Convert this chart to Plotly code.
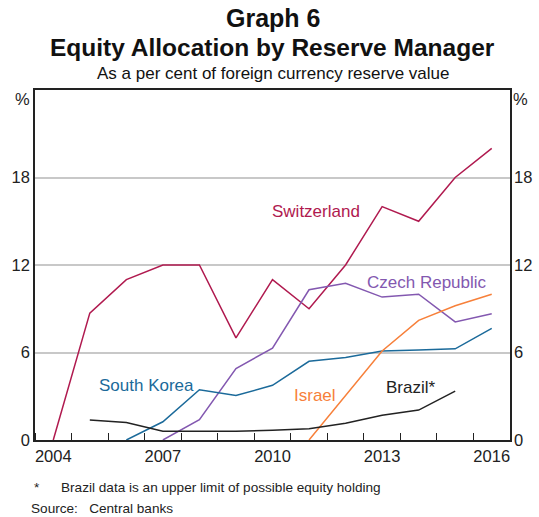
import plotly.graph_objects as go

years = list(range(2004, 2017))
switzerland = [0, 8.7, 11.0, 12.0, 12.0, 7.0, 11.0, 9.0, 12.0, 16.0, 15.0, 18.0, 20.0]
czech_years = list(range(2007, 2017))
czech = [0, 1.4, 4.9, 6.3, 10.3, 10.75, 9.8, 10.0, 8.1, 8.65]
korea_years = list(range(2006, 2017))
korea = [0, 1.25, 3.45, 3.05, 3.75, 5.4, 5.65, 6.1, 6.17, 6.25, 7.65]
israel_years = list(range(2011, 2017))
israel = [0, 3.05, 6.1, 8.2, 9.2, 10.0]
brazil_years = list(range(2005, 2016))
brazil = [1.37, 1.2, 0.6, 0.6, 0.6, 0.67, 0.78, 1.15, 1.7, 2.05, 3.35]

year_ticks = [2004, 2007, 2010, 2013, 2016]
y_ticks = [0, 6, 12, 18]

C_SWI = "#b01a4f"
C_CZE = "#8358b0"
C_KOR = "#1b6a9a"
C_ISR = "#f7803a"
C_BRA = "#222222"

FONT = "Liberation Sans, Arial, sans-serif"

fig = go.Figure()
series = [
    (years, switzerland, C_SWI, "Switzerland"),
    (czech_years, czech, C_CZE, "Czech Republic"),
    (korea_years, korea, C_KOR, "South Korea"),
    (israel_years, israel, C_ISR, "Israel"),
    (brazil_years, brazil, C_BRA, "Brazil*"),
]
for xs, ys, col, name in series:
    fig.add_trace(go.Scatter(x=xs, y=ys, mode="lines", line=dict(color=col, width=1.5),
                             name=name, showlegend=False, hoverinfo="skip"))
# invisible trace for right axis
fig.add_trace(go.Scatter(x=[2004], y=[0], yaxis="y2", mode="markers",
                         marker=dict(opacity=0), showlegend=False, hoverinfo="skip"))

fig.update_layout(
    width=539, height=517,
    margin=dict(l=35, r=29, t=90, b=77, autoexpand=False),
    paper_bgcolor="white", plot_bgcolor="white",
    font=dict(family=FONT, color="#222222", size=16),
    xaxis=dict(range=[2003.5, 2016.5], tickvals=year_ticks, ticks="", showgrid=False,
               showline=True, linecolor="#222222", linewidth=1.5, mirror=True,
               tickfont=dict(size=16.5), zeroline=False, automargin=False,
               minor=dict(tick0=2003.5, dtick=1, ticks="inside", ticklen=7,
                          tickcolor="#222222", tickwidth=1, showgrid=False)),
    yaxis=dict(range=[0, 24], tickvals=y_ticks, ticks="", showgrid=True,
               gridcolor="#c8c8c8", gridwidth=1.5, zeroline=False, automargin=False,
               showline=True, linecolor="#222222", linewidth=1.5, mirror=True,
               tickfont=dict(size=16.5)),
    yaxis2=dict(range=[0, 24], tickvals=y_ticks, ticks="", showgrid=False,
                overlaying="y", side="right", zeroline=False, showline=False,
                automargin=False, ticklabelstandoff=3, tickfont=dict(size=16.5)),
)

def ypx(py):
    return (440 - py) / 350.0

def xpx(px):
    return (px - 35) / 475.0

anns = [
    dict(text="<b>Graph 6</b>", x=0.5, y=ypx(18), size=25),
    dict(text="<b>Equity Allocation by Reserve Manager</b>", x=0.5, y=ypx(47), size=24.5),
    dict(text="As a per cent of foreign currency reserve value", x=0.5, y=ypx(74), size=17),
]
for a in anns:
    fig.add_annotation(text=a["text"], xref="paper", yref="paper", x=a["x"], y=a["y"],
                       xanchor="center", yanchor="middle", showarrow=False,
                       font=dict(size=a["size"], family=FONT, color="#111111"))

for txt, px in [("%", 22), ("%", 520)]:
    fig.add_annotation(text=txt, xref="paper", yref="paper", x=xpx(px), y=ypx(99),
                       xanchor="center", yanchor="middle", showarrow=False,
                       font=dict(size=16.5, family=FONT, color="#222222"))

FN = 13.6
fig.add_annotation(text="*", xref="paper", yref="paper", x=xpx(32), y=ypx(487),
                   xanchor="left", yanchor="middle", showarrow=False,
                   font=dict(size=FN, family=FONT, color="#222222"))
fig.add_annotation(text="Brazil data is an upper limit of possible equity holding",
                   xref="paper", yref="paper", x=xpx(59), y=ypx(487),
                   xanchor="left", yanchor="middle", showarrow=False,
                   font=dict(size=FN, family=FONT, color="#222222"))
fig.add_annotation(text="Source:   Central banks", xref="paper", yref="paper",
                   x=xpx(29), y=ypx(508), xanchor="left", yanchor="middle", showarrow=False,
                   font=dict(size=FN, family=FONT, color="#222222"))

labels = [
    ("Switzerland", 2011.19, 15.7, C_SWI),
    ("Czech Republic", 2014.23, 10.77, C_CZE),
    ("South Korea", 2006.54, 3.77, C_KOR),
    ("Israel", 2011.16, 3.02, C_ISR),
    ("Brazil*", 2013.79, 3.63, C_BRA),
]
for txt, x, y, col in labels:
    fig.add_annotation(text=txt, x=x, y=y, xref="x", yref="y", showarrow=False,
                       xanchor="center", yanchor="middle",
                       font=dict(size=17, family=FONT, color=col))

fig.write_html("out.html")
